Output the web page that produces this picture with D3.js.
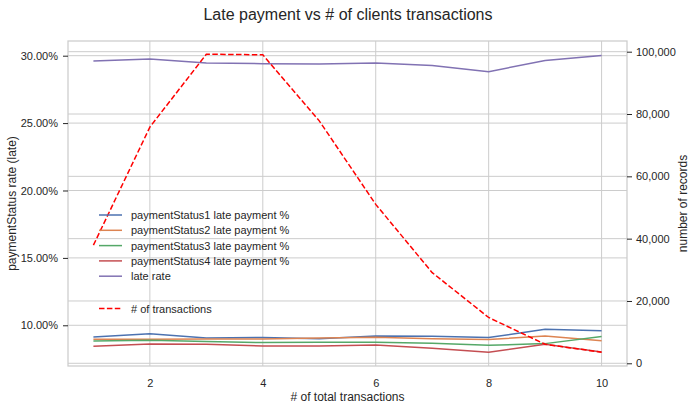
<!DOCTYPE html>
<html>
<head>
<style>
  body { margin: 0; background: #fff; }
  text { font-family: "Liberation Sans", Arial, sans-serif; fill: #262626; }
</style>
</head>
<body>
<svg width="696" height="408"></svg>
<script src="https://d3js.org/d3.v7.min.js"></script>
<script>

// # of total transactions per client
var transCount = [1, 2, 3, 4, 5, 6, 7, 8, 9, 10];

// late payment rate (%) per payment status
var status1 = [9.13, 9.38, 9.06, 9.09, 9.00, 9.21, 9.18, 9.09, 9.70, 9.60];
var status2 = [8.96, 8.96, 8.99, 8.99, 9.06, 9.11, 9.01, 8.94, 9.21, 8.86];
var status3 = [8.84, 8.89, 8.79, 8.72, 8.74, 8.74, 8.67, 8.52, 8.64, 9.16];
var status4 = [8.44, 8.62, 8.59, 8.47, 8.47, 8.54, 8.30, 8.00, 8.59, 8.02];
var lateRate = [29.60, 29.75, 29.46, 29.41, 29.39, 29.46, 29.28, 28.81, 29.65, 30.02];

// number of records (right axis)
var records = [37900, 75800, 99200, 99000, 77800, 51000, 29100, 14700, 6100, 3550];

var xTicks = [2, 4, 6, 8, 10];
var leftTicks = [10, 15, 20, 25, 30];
var rightTicks = [0, 20000, 40000, 60000, 80000, 100000];

var seriesNames = ["paymentStatus1 late payment %", "paymentStatus2 late payment %",
                   "paymentStatus3 late payment %", "paymentStatus4 late payment %", "late rate"];
var seriesColors = ["#4c72b0", "#dd8452", "#55a868", "#c44e52", "#8172b3"];

var svg = d3.select("svg"),
    margin = {top: 41, right: 69, bottom: 42, left: 68},
    width = +svg.attr("width") - margin.left - margin.right,
    height = +svg.attr("height") - margin.top - margin.bottom,
    g = svg.append("g").attr("transform", "translate(" + margin.left + "," + margin.top + ")");

var x = d3.scaleLinear().domain([0.55, 10.45]).range([0, width]);
var y = d3.scaleLinear().domain([6.98, 31.09]).range([height, 0]);
var y2 = d3.scaleLinear().domain([-870, 103430]).range([height, 0]);

var gridColor = "#cccccc";

// grids (x, left, right)
g.append("g").selectAll("line").data(xTicks).enter().append("line")
    .attr("x1", function(d) { return x(d); }).attr("x2", function(d) { return x(d); })
    .attr("y1", 0).attr("y2", height)
    .attr("stroke", gridColor).attr("stroke-width", 1);
g.append("g").selectAll("line").data(leftTicks).enter().append("line")
    .attr("x1", 0).attr("x2", width)
    .attr("y1", function(d) { return y(d); }).attr("y2", function(d) { return y(d); })
    .attr("stroke", gridColor).attr("stroke-width", 1);
g.append("g").selectAll("line").data(rightTicks).enter().append("line")
    .attr("x1", 0).attr("x2", width)
    .attr("y1", function(d) { return y2(d); }).attr("y2", function(d) { return y2(d); })
    .attr("stroke", gridColor).attr("stroke-width", 1);

// frame
g.append("rect").attr("width", width).attr("height", height)
    .attr("fill", "none").attr("stroke", gridColor).attr("stroke-width", 1.25);

// axes
var xAxis = g.append("g")
    .attr("transform", "translate(0," + height + ")")
    .call(d3.axisBottom(x).tickValues(xTicks).tickSize(0).tickPadding(13));
xAxis.select(".domain").remove();

var yAxis = g.append("g")
    .call(d3.axisLeft(y).tickValues(leftTicks).tickSize(5).tickPadding(5)
      .tickFormat(function(d) { return d.toFixed(2) + "%"; }));
yAxis.select(".domain").remove();

var y2Axis = g.append("g")
    .attr("transform", "translate(" + width + ",0)")
    .call(d3.axisRight(y2).tickValues(rightTicks).tickSize(5).tickPadding(4)
      .tickFormat(d3.format(",")));
y2Axis.select(".domain").remove();

svg.selectAll(".tick text").attr("font-size", 11).attr("font-family", null).style("fill", "#262626");
svg.selectAll(".tick line").attr("stroke", "#262626");

// lines
var pct = [status1, status2, status3, status4, lateRate];
var line = d3.line()
    .x(function(d, i) { return x(transCount[i]); })
    .y(function(d) { return y(d); });

pct.forEach(function(s, k) {
  g.append("path")
      .datum(s)
      .attr("fill", "none")
      .attr("stroke", seriesColors[k])
      .attr("stroke-width", 1.5)
      .attr("d", line);
});

// legend
var legend = svg.append("g").attr("transform", "translate(99,215)");
seriesNames.forEach(function(name, k) {
  var row = legend.append("g").attr("transform", "translate(0," + (k * 15.3) + ")");
  row.append("line").attr("x1", 0).attr("x2", 23).attr("y1", 0).attr("y2", 0)
      .attr("stroke", seriesColors[k]).attr("stroke-width", 1.5);
  row.append("text").attr("x", 32).attr("y", 4).attr("font-size", 11).text(name);
});
var row2 = legend.append("g").attr("transform", "translate(0,93.5)");
row2.append("line").attr("x1", 0).attr("x2", 23).attr("y1", 0).attr("y2", 0)
    .attr("stroke", "red").attr("stroke-width", 1.5).attr("stroke-dasharray", "5.5,2.4");
row2.append("text").attr("x", 32).attr("y", 4).attr("font-size", 11).text("# of transactions");

// records line (right axis)
var line2 = d3.line()
    .x(function(d, i) { return x(transCount[i]); })
    .y(function(d) { return y2(d); });

g.append("path")
    .datum(records)
    .attr("fill", "none")
    .attr("stroke", "red")
    .attr("stroke-width", 1.5)
    .attr("stroke-dasharray", "5.5,2.4")
    .attr("d", line2);

// labels
svg.append("text")
    .attr("x", 348).attr("y", 20)
    .attr("text-anchor", "middle").attr("font-size", 16)
    .text("Late payment vs # of clients transactions");

svg.append("text")
    .attr("x", margin.left + width / 2).attr("y", 401)
    .attr("text-anchor", "middle").attr("font-size", 12)
    .text("# of total transactions");

svg.append("text")
    .attr("transform", "translate(16," + (margin.top + height / 2) + ") rotate(-90)")
    .attr("text-anchor", "middle").attr("font-size", 12)
    .text("paymentStatus rate (late)");

svg.append("text")
    .attr("transform", "translate(687," + (margin.top + height / 2) + ") rotate(-90)")
    .attr("text-anchor", "middle").attr("font-size", 12)
    .text("number of records");

</script>
</body>
</html>
